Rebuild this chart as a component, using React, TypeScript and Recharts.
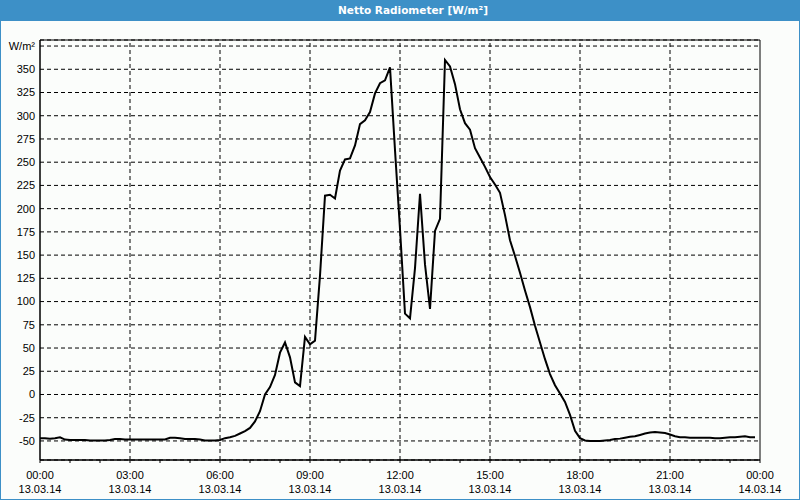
import React from "react";
import {
  CartesianGrid,
  Line,
  LineChart,
  ReferenceArea,
  ReferenceLine,
  XAxis,
  YAxis,
} from "recharts";

// 10-minute readings, 00:00 .. 23:50 on 13.03.14
const netRadiation = [
  -47, -47, -47.5, -47, -46, -48.5, -49, -49, -49, -49, -49.5, -49.5,
  -49.5, -49.5, -49, -48, -48, -48.5, -48.5, -48.5, -48.5, -48.5, -48.5, -48.5,
  -48.5, -48.5, -46.5, -46.5, -47, -48, -48, -48, -48.5, -49.5, -49.5, -49.5,
  -49, -47, -46, -44.5, -42, -39.5, -36, -29, -18, 0, 8, 21,
  45, 56, 40, 13, 9, 62, 54, 58, 128, 214, 215, 211,
  241, 253, 254, 268, 291, 295, 304, 324, 335, 338, 352, 263,
  178, 87, 82, 136, 216, 140, 92, 176, 189, 360, 353, 334,
  307, 292, 285, 265, 255, 245, 234, 226, 217, 193, 166, 149,
  131, 112, 94, 74, 56, 38, 22, 10, 1, -8, -22, -39,
  -47, -49.5, -50, -50, -50, -49.5, -49, -48, -47.5, -46.5, -45.5, -45,
  -43.5, -42, -41, -40.5, -41, -41.5, -43, -45, -46, -46, -46.5, -46.5,
  -46.5, -46.5, -46.5, -47, -47, -46.5, -46, -46, -45.5, -45, -46, -46,
];

const hourTicks = [0, 60, 120, 180, 240, 300, 360, 420, 480, 540, 600, 660, 720, 780, 840, 900, 960, 1020, 1080, 1140, 1200, 1260, 1320, 1380, 1440];
const gridTimes = [180, 360, 540, 720, 900, 1080, 1260];
const tickTimes = ["00:00", "03:00", "06:00", "09:00", "12:00", "15:00", "18:00", "21:00", "00:00"];
const tickDates = ["13.03.14", "13.03.14", "13.03.14", "13.03.14", "13.03.14", "13.03.14", "13.03.14", "13.03.14", "14.03.14"];
const yTicks = [-50, -25, 0, 25, 50, 75, 100, 125, 150, 175, 200, 225, 250, 275, 300, 325, 350, 375];

const chartData = netRadiation.map((v, i) => ({ t: i * 10, v }));

const FONT = "'Liberation Sans', Arial, sans-serif";
const BLUE = "#3d90c7";

function TimeTick({ x, y, payload }: any) {
  const value = payload.value as number;
  const idx = value % 180 === 0 ? value / 180 : -1;
  return (
    <g>
      <line x1={x} y1={y} x2={x} y2={y + 3} stroke="#000" />
      {idx >= 0 && (
        <>
          <text x={x} y={y + 19} textAnchor="middle" fontSize={11} fontFamily={FONT} fill="#000">
            {tickTimes[idx]}
          </text>
          <text x={x} y={y + 33} textAnchor="middle" fontSize={11} fontFamily={FONT} fill="#000">
            {tickDates[idx]}
          </text>
        </>
      )}
    </g>
  );
}

export default function App() {
  return (
    <div style={{ position: "relative", width: 800, height: 500, background: "#fbfdfb", overflow: "hidden" }}>
      <style>{"body{margin:0}"}</style>
      <div
        style={{
          position: "absolute",
          left: 0,
          top: 0,
          width: 800,
          height: 21,
          background: BLUE,
          color: "#fff",
          fontFamily: "'DejaVu Sans', sans-serif",
          fontWeight: "bold",
          fontSize: 10.5,
          lineHeight: "21px",
          textAlign: "center",
          paddingLeft: 26,
          boxSizing: "border-box",
        }}
      >
        Netto Radiometer [W/m²]
      </div>
      <div style={{ position: "absolute", left: 0, top: 0 }}>
        <LineChart width={800} height={500} data={chartData} margin={{ top: 40, right: 40, left: 5, bottom: 5 }}>
          <CartesianGrid stroke="#000" strokeDasharray="4 3" vertical={false} />
          {gridTimes.map((g) => (
            <ReferenceLine key={g} x={g} stroke="#000" strokeDasharray="4 3" />
          ))}
          <ReferenceArea x1={0} x2={1440} y1={-70.5} y2={381.5} fill="none" stroke="#000" strokeWidth={1} />
          <XAxis
            dataKey="t"
            type="number"
            domain={[0, 1440]}
            ticks={hourTicks}
            interval={0}
            height={35}
            tickSize={0}
            tickMargin={0}
            tickLine={false}
            axisLine={{ stroke: "#000" }}
            tick={<TimeTick />}
          />
          <YAxis
            type="number"
            domain={[-70.5, 381.5]}
            ticks={yTicks}
            interval={0}
            width={35}
            tickSize={0}
            tickMargin={5}
            tickLine={false}
            axisLine={{ stroke: "#000" }}
            tick={{ fill: "#000", fontSize: 11, fontFamily: FONT }}
            tickFormatter={(v: number) => (v === 375 ? "W/m²" : String(v))}
            allowDataOverflow
          />
          <Line
            type="linear"
            dataKey="v"
            stroke="#000"
            strokeWidth={2}
            dot={false}
            isAnimationActive={false}
          />
        </LineChart>
      </div>
      <div
        style={{
          position: "absolute",
          left: 0,
          top: 0,
          width: 800,
          height: 500,
          boxSizing: "border-box",
          border: `1px solid ${BLUE}`,
          pointerEvents: "none",
        }}
      />
    </div>
  );
}
